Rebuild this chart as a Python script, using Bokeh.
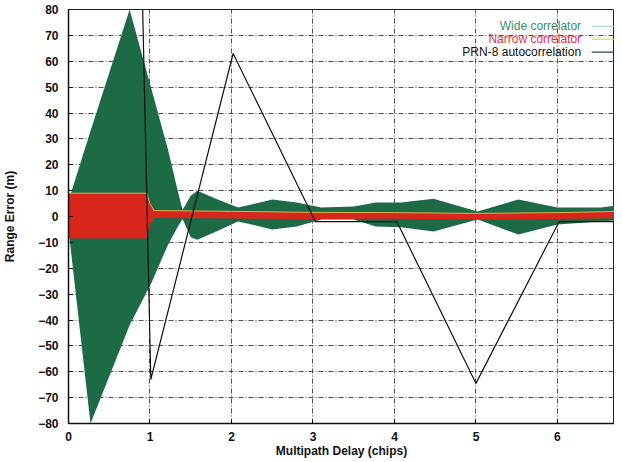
from bokeh.plotting import figure
from bokeh.models import ColumnDataSource, Range1d, SingleIntervalTicker, Label, BoxAnnotation
from bokeh.embed import file_html
from bokeh.resources import INLINE

# Wide correlator envelope (upper / lower bounds)
wide_x = [0.00, 0.27, 0.75, 1.02, 1.22, 1.34, 1.40, 1.50, 1.58, 1.80, 2.08, 2.30, 2.50, 2.80,
          3.10, 3.50, 3.77, 4.08, 4.48, 5.02, 5.52, 6.00, 6.54, 6.81]
wide_upper = [6, 33, 80, 49, 26, 10, 2.5, 8, 10, 7, 3.5, 5, 6.6, 5.4,
              3.5, 3.9, 5.4, 5.4, 6.9, 1.9, 6.6, 3.5, 3.5, 4.6]
wide_lower = [-5, -80, -42, -25.5, -11, -4, -1, -8, -9, -6, -1.9, -3.5, -5, -3.9,
              -1.2, -1.2, -3.9, -4.2, -5.8, -1.2, -7, -3.1, -1.9, -1.2]

# Narrow correlator band
narrow_x = [0.00, 0.96, 1.00, 1.05, 2.00, 3.00, 4.00, 5.00, 6.00, 6.81]
narrow_upper = [9.0, 9.0, 5.0, 2.3, 2.0, 1.6, 1.5, 1.2, 1.5, 2.0]
narrow_lower = [-8.5, -8.5, -3.0, -0.6, -0.8, -1.0, -0.9, -1.2, -1.0, -0.6]

# PRN-8 autocorrelation
prn_x = [0.90, 1.01, 2.02, 3.03, 4.03, 5.00, 6.02, 6.81]
prn_y = [95, -63, 63, -2, -2, -64.5, -2, -2]

y_ticks_interval = 10
x_ticks_interval = 1

FONT = "Liberation Sans"

p = figure(width=614, height=461, output_backend="svg", toolbar_location=None,
           x_range=Range1d(0, 6.70), y_range=Range1d(-80, 80),
           min_border_left=63, min_border_right=0, min_border_top=9, min_border_bottom=38,
           background_fill_color="white", border_fill_color="white")

wide_src = ColumnDataSource(dict(x=wide_x, up=wide_upper, lo=wide_lower))
narrow_src = ColumnDataSource(dict(x=narrow_x, up=narrow_upper, lo=narrow_lower))
prn_src = ColumnDataSource(dict(x=prn_x, y=prn_y))

p.varea(x="x", y1="lo", y2="up", source=wide_src, fill_color="#1d6a47")
p.varea(x="x", y1="lo", y2="up", source=narrow_src, fill_color="#d8261c")
p.line(x="x", y="up", source=narrow_src, line_color="#d9b348", line_width=1)
p.line(x="x", y="y", source=prn_src, line_color="#111111", line_width=1.2)

# axes
p.xaxis.ticker = SingleIntervalTicker(interval=x_ticks_interval)
p.yaxis.ticker = SingleIntervalTicker(interval=y_ticks_interval)
for ax in (p.xaxis[0], p.yaxis[0]):
    ax.major_label_text_font = FONT
    ax.major_label_text_font_size = "12px"
    ax.major_label_text_font_style = "bold"
    ax.major_label_text_color = "#111111"
    ax.axis_label_text_font = FONT
    ax.axis_label_text_font_size = "12px"
    ax.axis_label_text_font_style = "bold"
    ax.axis_label_text_color = "#111111"
    ax.minor_tick_line_color = None
    ax.major_tick_in = 4
    ax.major_tick_out = 0
    ax.axis_line_color = "#111111"
    ax.axis_line_width = 1.5
    ax.major_tick_line_color = "#111111"

p.xaxis.major_label_standoff = 4
p.yaxis.major_label_standoff = 6
p.xaxis.axis_label = "Multipath Delay (chips)"
p.yaxis.axis_label = "Range Error (m)"
p.xaxis.axis_label_standoff = 0
p.yaxis.axis_label_standoff = 18

p.xgrid.grid_line_color = "#333333"
p.ygrid.grid_line_color = "#333333"
p.xgrid.grid_line_dash = "5 2 1 2"
p.ygrid.grid_line_dash = "5 2 1 2"
p.xgrid.grid_line_alpha = 0.85
p.ygrid.grid_line_alpha = 0.85

p.outline_line_color = "#222222"
p.outline_line_width = 1

# legend (gnuplot style: text right-aligned, sample to the right)
legend_rows = [("Wide correlator", "#3a8a6c", "#b5dcc4", 73.5),
               ("Narrow correlator", "#e8303c", "#efd68c", 68.5),
               ("PRN-8 autocorrelation", "#111111", "#2a4a2a", 63.5)]
for txt, tcol, lcol, yy in legend_rows:
    p.add_layout(Label(x=6.29, y=yy, text=txt, text_align="right", text_baseline="middle",
                       text_font=FONT, text_font_size="12px", text_color=tcol))
    p.add_layout(BoxAnnotation(left=6.42, right=6.69, bottom=yy - 0.25, top=yy + 0.25,
                               fill_color=lcol, fill_alpha=1, line_alpha=0))

open("out.html", "w").write(file_html(p, INLINE))
